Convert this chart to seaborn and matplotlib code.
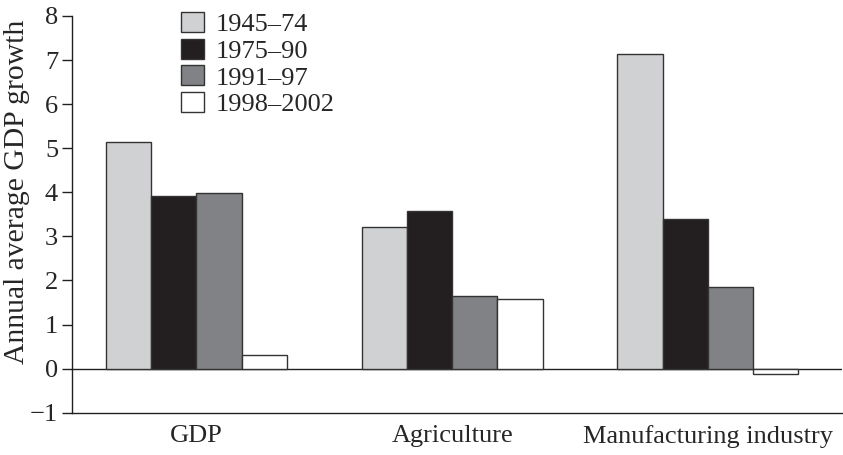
import matplotlib
matplotlib.use("Agg")
import matplotlib.pyplot as plt
import seaborn as sns
import pandas as pd
from matplotlib.patches import Patch

categories = ["GDP", "Agriculture", "Manufacturing industry"]
periods = ["1945\u201374", "1975\u201390", "1991\u201397", "1998\u20132002"]
v_1945_74 = [5.15, 3.21, 7.14]
v_1975_90 = [3.92, 3.58, 3.40]
v_1991_97 = [3.98, 1.64, 1.85]
v_1998_2002 = [0.30, 1.58, -0.12]
colors = ["#d0d1d3", "#231f20", "#808285", "#ffffff"]
yticks = [-1, 0, 1, 2, 3, 4, 5, 6, 7, 8]
ytick_labels = ["\u22121", "0", "1", "2", "3", "4", "5", "6", "7", "8"]

rows = []
for p, vals in zip(periods, [v_1945_74, v_1975_90, v_1991_97, v_1998_2002]):
    for c, v in zip(categories, vals):
        rows.append({"category": c, "period": p, "value": v})
df = pd.DataFrame(rows)

sns.set_style("ticks")
plt.rcParams["font.family"] = ["Liberation Serif", "DejaVu Serif"]

fig = plt.figure(figsize=(8.43, 4.55), dpi=100)
ax = fig.add_axes([0.0854, 0.093, 0.9134, 0.872])

sns.barplot(data=df, x="category", y="value", hue="period", order=categories,
            hue_order=periods, palette=colors, width=0.708, gap=0,
            edgecolor="#333333", linewidth=1.0, saturation=1, legend=False, ax=ax)

ax.axhline(0, color="#231f20", lw=1.0, zorder=0.5)
ax.set_ylim(-1, 8)
ax.set_xlim(-0.487, 2.525)
ax.set_yticks(yticks)
ax.set_yticklabels(ytick_labels)
ax.set_ylabel("Annual average GDP growth", fontsize=21.3)
ax.yaxis.set_label_coords(-0.0545, 0.557)
ax.set_xlabel("")
ax.tick_params(axis="y", direction="out", length=7, width=1, labelsize=19, pad=3, color="#231f20")
ax.tick_params(axis="x", length=0, labelsize=19, pad=9)
for s in ["top", "right"]:
    ax.spines[s].set_visible(False)
for s in ["left", "bottom"]:
    ax.spines[s].set_linewidth(1.0)
    ax.spines[s].set_color("#231f20")

handles = [Patch(facecolor=c, edgecolor="#333333", linewidth=1.0) for c in colors]
ax.legend(handles, periods, loc="upper left", bbox_to_anchor=(0.142, 1.01),
          frameon=False, fontsize=19, handlelength=0.87, handleheight=0.78,
          handletextpad=0.45, labelspacing=0.1, borderaxespad=0, borderpad=0)

fig.savefig("out.png", dpi=100)
